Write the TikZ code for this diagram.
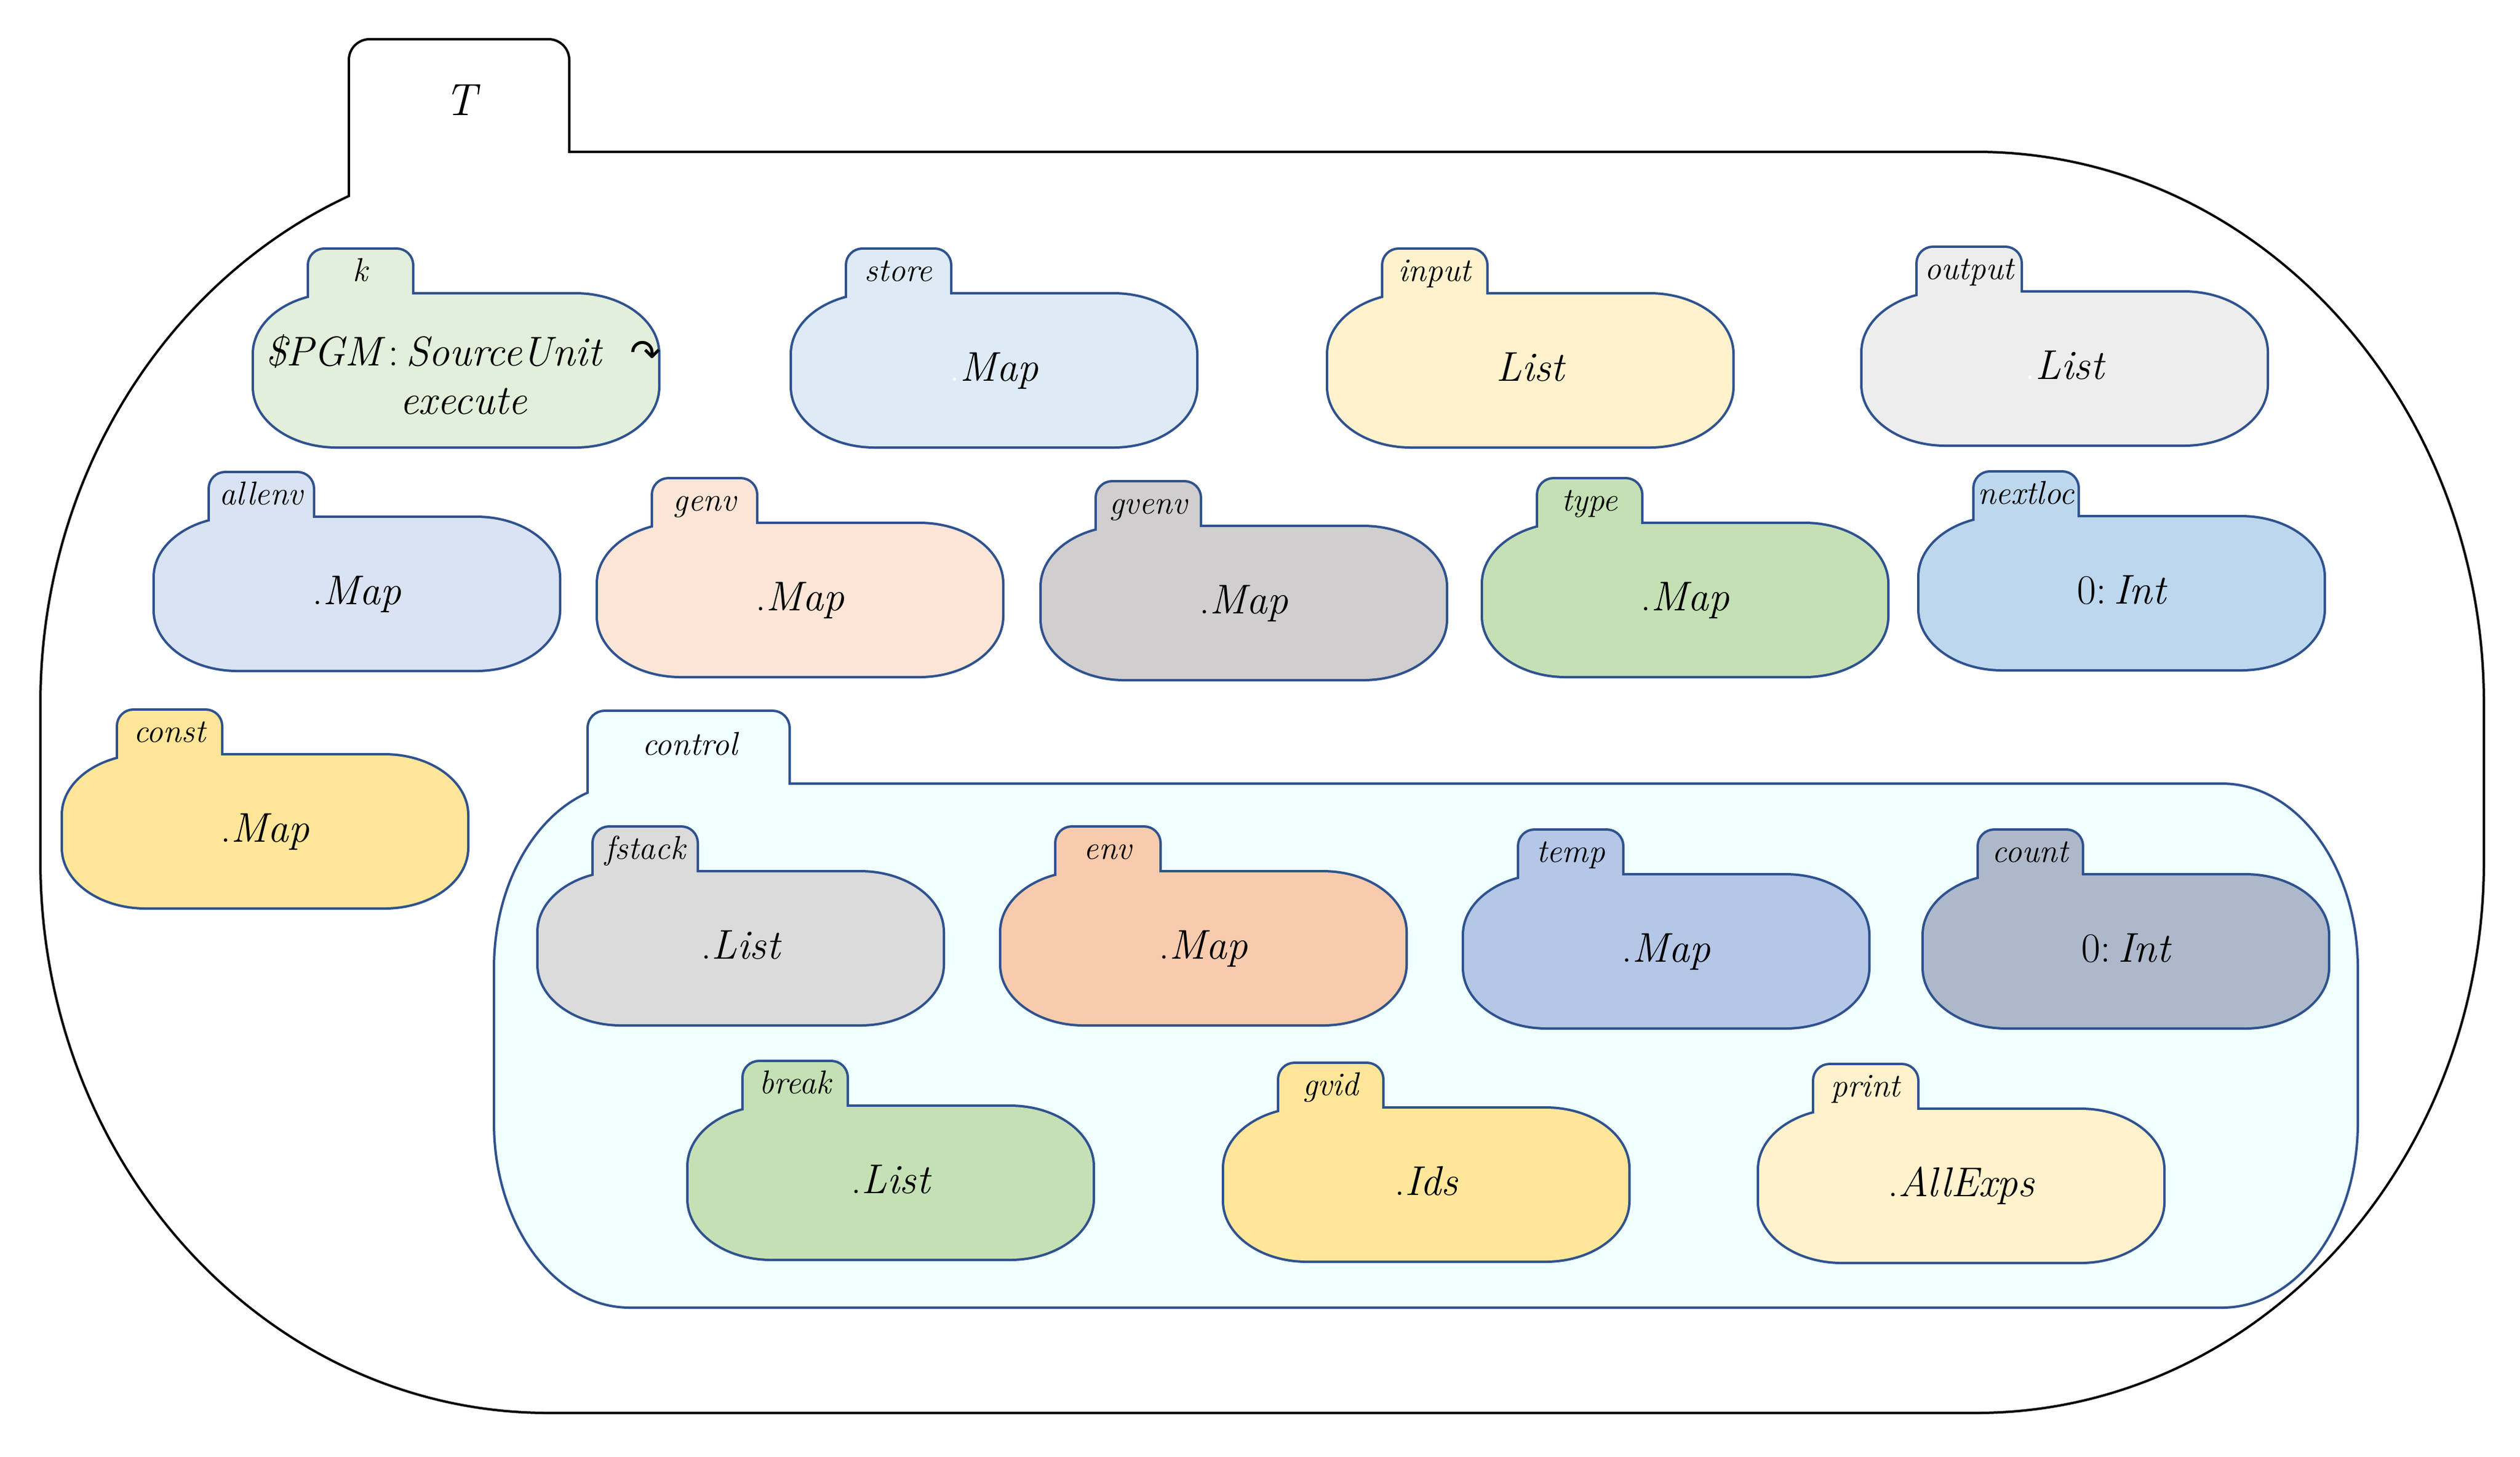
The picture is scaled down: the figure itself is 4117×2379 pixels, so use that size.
\documentclass[tikz,border=0pt]{standalone}
\usepackage{fontspec}
\newfontfamily\symfont{DejaVu Sans}
\definecolor{cb}{HTML}{2F528F}
\definecolor{ck}{HTML}{E2EFDA}
\definecolor{cstore}{HTML}{DEEBF7}
\definecolor{cinput}{HTML}{FFF2CC}
\definecolor{coutput}{HTML}{EDEDED}
\definecolor{callenv}{HTML}{DAE3F3}
\definecolor{cgenv}{HTML}{FBE5D6}
\definecolor{cgvenv}{HTML}{D0CECE}
\definecolor{ctype}{HTML}{C5E0B4}
\definecolor{cnextloc}{HTML}{BDD7EE}
\definecolor{cconst}{HTML}{FFE699}
\definecolor{ccontrol}{HTML}{F0FFFF}
\definecolor{cfstack}{HTML}{DBDBDB}
\definecolor{cenv}{HTML}{F8CBAD}
\definecolor{ctemp}{HTML}{B4C7E7}
\definecolor{ccount}{HTML}{ADB9CA}
\definecolor{cbreak}{HTML}{C5E0B4}
\definecolor{cgvid}{HTML}{FFE699}
\definecolor{cprint}{HTML}{FFF2CC}
% body with elliptical corners: x y w h rx ry style (y grows downward)
\newcommand\ebodypath[7]{\path[#7] (#1+#5,#2) -- (#1+#3-#5,#2)
  .. controls (#1+#3-0.4477*#5,#2) and (#1+#3,#2+0.4477*#6) .. (#1+#3,#2+#6)
  -- (#1+#3,#2+#4-#6)
  .. controls (#1+#3,#2+#4-0.4477*#6) and (#1+#3-0.4477*#5,#2+#4) .. (#1+#3-#5,#2+#4)
  -- (#1+#5,#2+#4)
  .. controls (#1+0.4477*#5,#2+#4) and (#1,#2+#4-0.4477*#6) .. (#1,#2+#4-#6)
  -- (#1,#2+#6)
  .. controls (#1,#2+0.4477*#6) and (#1+0.4477*#5,#2) .. (#1+#5,#2) -- cycle;}
% tab: x top bottom width radius style
\newcommand\tabpath[6]{\path[rounded corners=#5,#6] (#1,#3) -- (#1,#2) -- (#1+#4,#2) -- (#1+#4,#3) -- cycle;}
% cell: name bx by fill label
\newcommand\cellbox[5]{%
  \ebodypath{#2}{#3}{660}{248}{135}{97}{draw=cb,line width=2pt}
  \tabpath{#2+90}{#3-73}{#3+30}{168}{6.25pt}{draw=cb,line width=2pt}
  \ebodypath{#2}{#3}{660}{248}{135}{97}{fill=#4}
  \tabpath{#2+90}{#3-73}{#3+30}{168}{6.25pt}{fill=#4}
  \node[lab] (#1) at (#2+174,#3-22) {#5};}
\newcommand\cellval[4]{\node[val] (#1) at (#2+330,#3+141) {#4};}
\newcommand\wdot{{\upshape\color{white}.}}
\newcommand\udot{{\upshape .}}
\newcommand\zint{{\upshape 0:}\,Int}
\tikzset{
  lab/.style={anchor=base, inner sep=0pt, font=\fontsize{13.5}{16}\selectfont\itshape},
  val/.style={anchor=base, inner sep=0pt, font=\fontsize{17}{20}\selectfont\itshape},
}
\begin{document}
\begin{tikzpicture}[x=0.25pt,y=-0.25pt]
\useasboundingbox (0,0) rectangle (4117,2379);
% outer T
\ebodypath{68}{250}{3988}{2056}{828}{900}{draw=black,line width=2pt}
\tabpath{572}{66}{420}{356}{8pt}{draw=black,line width=2pt}
\ebodypath{68}{250}{3988}{2056}{828}{900}{fill=white}
\tabpath{572}{66}{420}{356}{8pt}{fill=white}
\node[anchor=base, inner sep=0pt, font=\fontsize{18.5}{22}\selectfont\itshape] (T) at (752,188) {T};
% row 1
\cellbox{k}{415}{481}{ck}{k}
\node[val] (kval1) at (757,597) {\$PGM\,{\upshape:}\,SourceUnit\ \ {\upshape\symfont\fontsize{15}{18}\selectfont ↷}};
\node[val] (kval2) at (757,676) {execute};
\cellbox{store}{1294}{481}{cstore}{store}
\cellval{storeval}{1294}{481}{\wdot Map}
\cellbox{input}{2170}{481}{cinput}{input}
\cellval{inputval}{2170}{481}{List}
\cellbox{output}{3043}{478}{coutput}{output}
\cellval{outputval}{3043}{478}{\wdot List}
% row 2
\cellbox{allenv}{253}{846}{callenv}{allenv}
\cellval{allenvval}{253}{846}{\udot Map}
\cellbox{genv}{977}{856}{cgenv}{genv}
\cellval{genvval}{977}{856}{\udot Map}
\cellbox{gvenv}{1702}{861}{cgvenv}{gvenv}
\cellval{gvenvval}{1702}{861}{\udot Map}
\cellbox{type}{2423}{856}{ctype}{type}
\cellval{typeval}{2423}{856}{\udot Map}
\cellbox{nextloc}{3136}{845}{cnextloc}{nextloc}
\cellval{nextlocval}{3136}{845}{\zint}
% row 3
\cellbox{const}{103}{1234}{cconst}{const}
\cellval{constval}{103}{1234}{\udot Map}
% control
\ebodypath{809}{1282}{3041}{852}{220}{300}{draw=cb,line width=2pt}
\tabpath{962}{1163}{1350}{326}{6.5pt}{draw=cb,line width=2pt}
\ebodypath{809}{1282}{3041}{852}{220}{300}{fill=ccontrol}
\tabpath{962}{1163}{1350}{326}{6.5pt}{fill=ccontrol}
\node[anchor=base, inner sep=0pt, font=\fontsize{13.5}{16}\selectfont\itshape] (control) at (1127,1233) {control};
\cellbox{fstack}{880}{1425}{cfstack}{fstack}
\cellval{fstackval}{880}{1425}{\udot List}
\cellbox{env}{1636}{1425}{cenv}{env}
\cellval{envval}{1636}{1425}{\udot Map}
\cellbox{temp}{2392}{1430}{ctemp}{temp}
\cellval{tempval}{2392}{1430}{\udot Map}
\cellbox{count}{3143}{1430}{ccount}{count}
\cellval{countval}{3143}{1430}{\zint}
\cellbox{break}{1125}{1808}{cbreak}{break}
\cellval{breakval}{1125}{1808}{\udot List}
\cellbox{gvid}{2000}{1811}{cgvid}{gvid}
\cellval{gvidval}{2000}{1811}{\udot Ids}
\cellbox{print}{2874}{1813}{cprint}{print}
\cellval{printval}{2874}{1813}{\udot AllExps}
\end{tikzpicture}
\end{document}
